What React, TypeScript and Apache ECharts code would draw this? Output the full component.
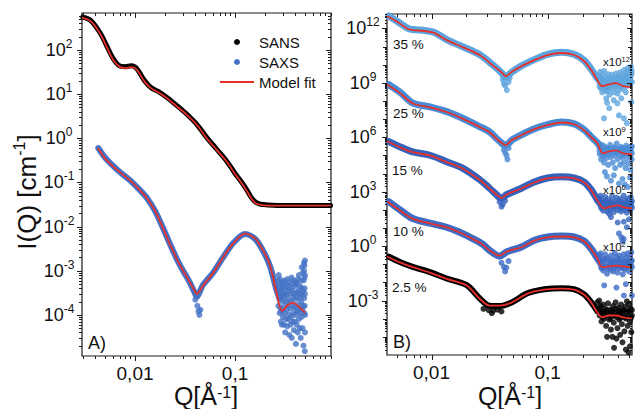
import React, { useEffect, useRef } from 'react';
import * as echarts from 'echarts';

const FONT = "'Liberation Sans', Arial, Helvetica, sans-serif";
const AXIS_COLOR = '#1a1a1a';
const TEXT_COLOR = '#111';
const RED = '#e8302a';
const C_SANS = '#000000';
const C_SAXS = '#4472c4';
const C_35 = '#5ca5de';
const C_25 = '#4a8bd5';
const C_15 = '#3363bd';
const C_10 = '#3d6cc5';
const C_2_5 = '#000000';

// axis ranges
const A_X = [0.00295, 0.91];
const A_Y = [1.17e-5, 690];
const B_X = [0.00414, 0.531];
const B_Y = [1e-6, 6.2e12];

// tick labels on Q axis
const Q_TICK_VALUES = [0.01, 0.1];
const Q_TICK_TEXTS = ['0,01', '0,1'];

// axis titles
const X_TITLE = '{m|Q[Å}{s|-1}{m|]}';
const Y_TITLE = '{m|I(Q) [cm}{s|-1}{m|]}';

// ---------- Panel A ----------
const A_SANS_DATA = [
  [0.003, 560], [0.0036, 470], [0.0045, 240], [0.0052, 125], [0.0061, 62], [0.0071, 43], [0.008, 42],
  [0.0092, 44], [0.0104, 38], [0.0125, 20], [0.0145, 14], [0.017, 11.5], [0.021, 8.3], [0.027, 5.2],
  [0.033, 3.5], [0.042, 2.0], [0.052, 1.05], [0.065, 0.58], [0.083, 0.3], [0.1, 0.16], [0.115, 0.105],
  [0.13, 0.07], [0.145, 0.046], [0.16, 0.036], [0.18, 0.032], [0.21, 0.031], [0.3, 0.03], [0.5, 0.03], [0.9, 0.03],
];
const A_SANS_FIT = [
  [0.00295, 545], [0.0036, 450], [0.0045, 230], [0.0052, 118], [0.0061, 58], [0.0071, 41], [0.008, 39],
  [0.0092, 41], [0.0104, 36], [0.0125, 19], [0.0145, 13.5], [0.017, 11], [0.021, 8.0], [0.027, 5.0],
  [0.033, 3.4], [0.042, 1.95], [0.052, 1.0], [0.065, 0.56], [0.083, 0.29], [0.1, 0.155], [0.115, 0.1],
  [0.13, 0.066], [0.145, 0.044], [0.16, 0.034], [0.18, 0.031], [0.21, 0.03], [0.3, 0.03], [0.5, 0.03], [0.91, 0.03],
];
const A_SAXS_DATA = [
  [0.0043, 0.6], [0.005, 0.37], [0.0059, 0.25], [0.0071, 0.17], [0.0089, 0.112], [0.0112, 0.067],
  [0.0132, 0.044], [0.0158, 0.023], [0.0191, 0.0092], [0.0224, 0.004], [0.0263, 0.0018], [0.0302, 0.001],
  [0.0347, 0.00058], [0.0389, 0.00034], [0.0417, 0.00026], [0.045, 0.00036], [0.0479, 0.00048], [0.0603, 0.0009],
  [0.0759, 0.002], [0.0955, 0.0042], [0.126, 0.0068], [0.158, 0.0053], [0.191, 0.0028], [0.224, 0.00125],
  [0.257, 0.0004], [0.275, 0.00025],
];
const A_SAXS_DIP = [[0.04, 2.2e-4], [0.041, 2.6e-4], [0.042, 1.6e-4], [0.043, 1.2e-4], [0.044, 1.0e-4], [0.045, 1.3e-4]];
const A_SAXS_NOISE = [
  [0.268, 6e-4], [0.27, 3.2e-4], [0.271, 1.6e-4], [0.273, 8e-4], [0.276, 4.5e-4], [0.278, 2.2e-4], [0.279, 1.1e-4],
  [0.281, 6.5e-4], [0.284, 3.5e-4], [0.285, 1.4e-4], [0.287, 7e-5], [0.288, 5e-4], [0.291, 2.6e-4], [0.292, 1.2e-4],
  [0.294, 6e-5], [0.295, 4e-4], [0.298, 5.5e-4], [0.299, 2e-4], [0.301, 9e-5], [0.302, 3e-4], [0.305, 4.5e-4],
  [0.306, 1.5e-4], [0.308, 6e-5], [0.309, 2.5e-4], [0.312, 6e-4], [0.314, 3e-4], [0.315, 1.1e-4], [0.317, 4e-5],
  [0.32, 4e-4], [0.322, 2e-4], [0.323, 8e-5], [0.325, 5e-4], [0.328, 2.8e-4], [0.33, 1.3e-4], [0.332, 5.5e-5],
  [0.334, 6.5e-4], [0.337, 3.5e-4], [0.338, 1.7e-4], [0.34, 8e-5], [0.342, 4.5e-4], [0.345, 2.2e-4], [0.347, 1e-4],
  [0.349, 3.5e-5], [0.35, 5.5e-4], [0.354, 3e-4], [0.356, 1.4e-4], [0.358, 6e-5], [0.36, 4e-4], [0.363, 2e-4],
  [0.365, 9e-5], [0.367, 7e-4], [0.369, 3e-5], [0.372, 3.5e-4], [0.374, 1.6e-4], [0.376, 7e-5], [0.378, 5e-4],
  [0.381, 2.5e-4], [0.383, 1.1e-4], [0.385, 6e-4], [0.387, 4.5e-5], [0.39, 3e-4], [0.392, 1.5e-4], [0.394, 7e-5],
  [0.396, 4.5e-4], [0.4, 2.2e-4], [0.402, 1e-4], [0.404, 5.5e-4], [0.406, 2.2e-5], [0.409, 3.2e-4], [0.411, 1.4e-4],
  [0.413, 6e-5], [0.415, 5e-4], [0.419, 2.6e-4], [0.421, 1.2e-4], [0.423, 4e-5], [0.425, 6.5e-4], [0.429, 3.5e-4],
  [0.431, 1.7e-4], [0.433, 8e-5], [0.435, 8e-4], [0.439, 2.4e-4], [0.441, 1.1e-4], [0.443, 5e-5], [0.445, 4.5e-4],
  [0.449, 3e-4], [0.451, 1.4e-4], [0.453, 3e-5], [0.455, 6e-4], [0.459, 2e-4], [0.461, 9e-5], [0.463, 1.2e-3],
  [0.465, 4e-4], [0.469, 2.8e-4], [0.471, 1.3e-4], [0.473, 5e-5], [0.475, 9e-4], [0.479, 3.5e-4], [0.481, 1.6e-4],
  [0.483, 2e-5], [0.485, 6e-4], [0.489, 1.5e-3], [0.49, 1e-3], [0.491, 2.4e-4], [0.492, 1.1e-4], [0.494, 1.3e-3],
  [0.495, 7e-4], [0.496, 4e-4], [0.497, 1.6e-4], [0.499, 1.7e-3], [0.5, 8e-4], [0.5, 3e-4], [0.501, 1e-4],
  [0.498, 1.5e-5], [0.5, 4e-5],
];
const A_SAXS_FIT = [
  [0.00427, 0.593], [0.00501, 0.351], [0.00589, 0.243], [0.00708, 0.169], [0.00891, 0.111], [0.0112, 0.066],
  [0.0132, 0.0433], [0.0158, 0.0231], [0.0191, 0.009], [0.0224, 0.0039], [0.0263, 0.00178], [0.0302, 0.001],
  [0.0347, 0.00059], [0.0389, 0.00037], [0.0417, 0.0003], [0.0479, 0.00046], [0.0603, 0.00089], [0.0759, 0.002],
  [0.0955, 0.0041], [0.126, 0.0069], [0.158, 0.0054], [0.191, 0.00285], [0.224, 0.0013], [0.257, 0.00035],
  [0.295, 0.000123], [0.339, 0.00017], [0.38, 0.000187], [0.437, 0.000152], [0.501, 0.000112],
];

// ---------- Panel B ----------
const B35_FIT = [
  [0.00414, 4.8e12], [0.00514, 2.2e12], [0.00627, 9.2e11], [0.00692, 8.1e11], [0.00877, 7.1e11], [0.01067, 5.5e11],
  [0.0135, 2.25e11], [0.0185, 9.3e10], [0.0259, 3.4e10], [0.0335, 9.4e9], [0.0408, 3.4e9], [0.0433, 2.3e9],
  [0.0488, 3.9e9], [0.0594, 8.3e9], [0.0768, 1.78e10], [0.0993, 3.4e10], [0.131, 4.4e10], [0.169, 3.4e10],
  [0.206, 1.55e10], [0.237, 5e9], [0.267, 1.4e9], [0.294, 6.5e8], [0.338, 8.3e8], [0.388, 9.5e8], [0.446, 6.5e8], [0.531, 5.7e8],
];
const B25_FIT = [
  [0.00414, 8.0e8], [0.00535, 2.7e8], [0.00692, 7.2e7], [0.00968, 4.5e7], [0.0135, 2.46e7], [0.0185, 1.07e7],
  [0.0259, 3.7e6], [0.0316, 1.9e6], [0.0361, 8.5e5], [0.0408, 4.5e5], [0.0433, 3.6e5], [0.0488, 6.8e5],
  [0.0594, 1.29e6], [0.0768, 2.8e6], [0.0993, 4.6e6], [0.131, 6.5e6], [0.169, 5.2e6], [0.206, 2.4e6],
  [0.237, 1.0e6], [0.267, 4.7e5], [0.298, 1.3e5], [0.338, 1.66e5], [0.388, 1.9e5], [0.446, 1.3e5], [0.531, 1.15e5],
];
const B15_FIT = [
  [0.00414, 6.0e5], [0.00535, 2.8e5], [0.00692, 1.5e5], [0.00968, 9.9e4], [0.0135, 4.3e4], [0.0185, 1.9e4],
  [0.0259, 4.5e3], [0.0316, 1.5e3], [0.0361, 700], [0.04, 450], [0.0442, 700], [0.0594, 1.5e3], [0.0768, 3.2e3],
  [0.0993, 5.4e3], [0.131, 6.2e3], [0.169, 5.4e3], [0.206, 3.2e3], [0.237, 1.18e3], [0.267, 330], [0.306, 120],
  [0.352, 155], [0.404, 175], [0.454, 135], [0.531, 120],
];
const B10_FIT = [
  [0.00414, 300], [0.00535, 93], [0.00692, 32], [0.00967, 17.8], [0.01352, 10.7], [0.0175, 5.6], [0.0226, 2.5],
  [0.0275, 1.23], [0.0316, 0.57], [0.0385, 0.3], [0.0442, 0.5], [0.0594, 0.87], [0.0768, 2.0], [0.0993, 3.0],
  [0.131, 3.4], [0.169, 3.0], [0.206, 1.8], [0.237, 0.65], [0.267, 0.21], [0.294, 0.069], [0.338, 0.076],
  [0.388, 0.085], [0.446, 0.076], [0.531, 0.066],
];
const B2_5_FIT = [
  [0.00414, 0.27], [0.00535, 0.126], [0.00692, 0.069], [0.00967, 0.035], [0.01352, 0.0158], [0.0201, 0.0068],
  [0.0259, 0.0013], [0.0316, 5.3e-4], [0.0385, 5.3e-4], [0.0488, 7.7e-4], [0.0668, 0.0024], [0.0935, 0.004],
  [0.131, 0.0046], [0.169, 0.004], [0.206, 0.0021], [0.237, 7.7e-4], [0.267, 2.2e-4], [0.294, 1.2e-4],
  [0.338, 1.5e-4], [0.388, 1.5e-4], [0.446, 1.17e-4], [0.531, 1.0e-4],
];

const B35_DATA = [
  [0.0043, 4.8e12], [0.0051, 2.4e12], [0.0063, 1.0e12], [0.0069, 8.6e11], [0.0088, 7.5e11], [0.0107, 5.8e11],
  [0.0135, 2.4e11], [0.0185, 9.8e10], [0.0259, 3.6e10], [0.0335, 1.0e10], [0.0408, 3.2e9], [0.0433, 2.0e9],
  [0.0488, 3.8e9], [0.0594, 8.6e9], [0.0768, 1.9e10], [0.0993, 3.7e10], [0.131, 4.8e10], [0.169, 3.7e10],
  [0.206, 1.7e10], [0.237, 5.6e9], [0.267, 1.8e9], [0.28, 1.3e9],
];
const B25_DATA = [
  [0.0043, 7.8e8], [0.0054, 2.9e8], [0.0069, 7.6e7], [0.0097, 4.7e7], [0.0135, 2.6e7], [0.0185, 1.12e7],
  [0.0259, 3.9e6], [0.0316, 2.0e6], [0.0361, 8.8e5], [0.0408, 4.4e5], [0.0433, 3.3e5], [0.0488, 6.8e5],
  [0.0594, 1.35e6], [0.0768, 2.9e6], [0.0993, 4.9e6], [0.131, 6.9e6], [0.169, 5.5e6], [0.206, 2.6e6],
  [0.237, 1.05e6], [0.267, 5e5], [0.28, 3.5e5],
];
const B15_DATA = [
  [0.0043, 5.8e5], [0.0054, 2.9e5], [0.0069, 1.55e5], [0.0097, 1.02e5], [0.0135, 4.5e4], [0.0185, 2e4],
  [0.0259, 4.7e3], [0.0316, 1.55e3], [0.0361, 700], [0.04, 420], [0.0442, 680], [0.0594, 1.55e3], [0.0768, 3.4e3],
  [0.0993, 5.7e3], [0.131, 6.6e3], [0.169, 5.7e3], [0.206, 3.4e3], [0.237, 1.25e3], [0.267, 360], [0.28, 250],
];
const B10_DATA = [
  [0.0043, 280], [0.0054, 96], [0.0069, 33], [0.0097, 18.5], [0.0135, 11], [0.0175, 5.8], [0.0226, 2.6],
  [0.0275, 1.28], [0.0316, 0.58], [0.0385, 0.28], [0.0442, 0.48], [0.0594, 0.9], [0.0768, 2.1], [0.0993, 3.2],
  [0.131, 3.6], [0.169, 3.2], [0.206, 1.9], [0.237, 0.7], [0.267, 0.22], [0.28, 0.14],
];
const B2_5_DATA = [
  [0.0043, 0.26], [0.0054, 0.13], [0.0069, 0.072], [0.0097, 0.037], [0.0135, 0.0165], [0.0201, 0.0071],
  [0.0259, 0.00135], [0.0316, 5.2e-4], [0.0385, 5.0e-4], [0.0488, 7.8e-4], [0.0668, 0.0025], [0.0935, 0.0042],
  [0.131, 0.0048], [0.169, 0.0042], [0.206, 0.0022], [0.237, 8e-4], [0.267, 2.6e-4],
];

const B35_DIP = [[0.041, 1.5e9], [0.042, 9e8], [0.043, 7e8], [0.0445, 4e8], [0.046, 1.1e9], [0.047, 1.8e9]];
const B25_DIP = [[0.042, 2e5], [0.043, 1.4e5], [0.0442, 1e5], [0.045, 6e4], [0.046, 2.5e5]];
const B15_DIP = [[0.0385, 270], [0.04, 150], [0.041, 200], [0.043, 320]];
const B10_DIP = [[0.04, 0.12], [0.042, 0.07], [0.043, 0.04], [0.044, 0.065], [0.046, 0.15]];
const B2_5_DIP = [[0.028, 3.5e-4], [0.031, 3e-4], [0.033, 2e-4], [0.034, 2.8e-4], [0.037, 3.2e-4], [0.04, 2.5e-4]];

const B35_NOISE = [
  [0.277, 2.5e9], [0.28, 9e8], [0.283, 4e9], [0.287, 5e8], [0.29, 1.6e9], [0.294, 3e8], [0.298, 2.6e9], [0.302, 7e8],
  [0.306, 4.5e9], [0.31, 1.2e9], [0.315, 3.5e8], [0.32, 2e9], [0.325, 6e8], [0.33, 3e9], [0.335, 1.1e9], [0.34, 2.2e8],
  [0.346, 1.7e9], [0.352, 5e8], [0.358, 2.8e9], [0.364, 9e8], [0.37, 3e8], [0.376, 1.9e9], [0.382, 6e8], [0.388, 3.3e9],
  [0.394, 1.2e9], [0.4, 4e8], [0.407, 2.3e9], [0.414, 7e8], [0.42, 3.8e9], [0.427, 1.4e9], [0.434, 4.5e8], [0.44, 2.6e9],
  [0.447, 9e8], [0.454, 5e9], [0.46, 1.8e9], [0.467, 6e8], [0.474, 3.5e9], [0.48, 1.3e9], [0.487, 6.5e9], [0.494, 2.4e9],
  [0.5, 8e8], [0.507, 5e9], [0.514, 1.7e9], [0.52, 7.5e9], [0.527, 3e9], [0.53, 1.1e9],
  [0.279, 6e8], [0.285, 1.8e9], [0.292, 8e8], [0.3, 1.2e9], [0.308, 5e8], [0.317, 9e8], [0.327, 1.4e9], [0.338, 6e8],
  [0.349, 9e8], [0.36, 1.5e9], [0.372, 7e8], [0.385, 1e9], [0.397, 1.8e9], [0.41, 1e9], [0.424, 6e8], [0.437, 1.6e9],
  [0.45, 1.1e9], [0.465, 2.5e9], [0.478, 8e8], [0.49, 1.5e9], [0.503, 3e9], [0.517, 1e9], [0.528, 4.5e9],
  [0.33, 3.5e8], [0.4, 2.5e8], [0.47, 3e8],
  [0.305, 1.1e7], [0.318, 1.4e8], [0.324, 8e7], [0.338, 4e7], [0.37, 1.1e8], [0.397, 7.4e7], [0.41, 1.6e7],
  [0.43, 1.4e8], [0.452, 1.1e7], [0.48, 6e6], [0.525, 8.5e7],
];
const B25_NOISE = [
  [0.277, 3e5], [0.28, 1.2e5], [0.284, 4e5], [0.288, 6e4], [0.292, 2e5], [0.296, 9e4], [0.3, 3.5e5], [0.305, 4e4],
  [0.31, 1.5e5], [0.315, 2.8e5], [0.32, 7e4], [0.326, 2.2e5], [0.332, 3e4], [0.338, 1.2e5], [0.344, 3.8e5], [0.35, 8e4],
  [0.356, 1.8e5], [0.362, 4e4], [0.368, 2.6e5], [0.374, 1e5], [0.38, 2e4], [0.386, 1.6e5], [0.392, 4.5e5], [0.398, 6e4],
  [0.405, 2.2e5], [0.412, 1.1e5], [0.42, 3e4], [0.427, 3e5], [0.434, 8e4], [0.44, 1.7e5], [0.447, 4e4], [0.454, 2.5e5],
  [0.46, 1.2e5], [0.467, 2e4], [0.474, 3.5e5], [0.48, 7e4], [0.487, 1.9e5], [0.494, 3.5e4], [0.5, 2.8e5], [0.507, 1e5],
  [0.514, 1.6e4], [0.52, 2e5], [0.527, 6e4], [0.53, 3.2e5],
  [0.279, 1.8e5], [0.286, 2.5e5], [0.293, 1.3e5], [0.302, 2e5], [0.311, 1e5], [0.321, 1.6e5], [0.331, 2.5e5],
  [0.342, 1.3e5], [0.353, 2.2e5], [0.365, 1.5e5], [0.377, 2.8e5], [0.389, 1.3e5], [0.401, 2e5], [0.414, 1.6e5],
  [0.427, 2.4e5], [0.44, 1e5], [0.453, 1.6e5], [0.466, 2.4e5], [0.48, 1.4e5], [0.494, 2e5], [0.508, 1.6e5],
  [0.522, 2.8e5], [0.53, 1.3e5],
  [0.31, 1.2e4], [0.323, 7e3], [0.35, 4e3], [0.37, 8e3], [0.41, 2.8e3], [0.44, 5e3], [0.46, 2.5e3], [0.49, 1.8e3], [0.51, 6e3],
];
const B15_NOISE = [
  [0.277, 450], [0.28, 200], [0.285, 600], [0.29, 120], [0.295, 330], [0.3, 90], [0.306, 250], [0.312, 520],
  [0.318, 150], [0.324, 80], [0.33, 380], [0.337, 180], [0.344, 100], [0.35, 280], [0.357, 550], [0.364, 130],
  [0.37, 75], [0.377, 300], [0.384, 160], [0.39, 480], [0.398, 95], [0.405, 220], [0.412, 130], [0.42, 400],
  [0.428, 80], [0.435, 260], [0.442, 150], [0.45, 600], [0.457, 100], [0.465, 320], [0.472, 180], [0.48, 70],
  [0.487, 420], [0.495, 140], [0.502, 250], [0.51, 90], [0.517, 500], [0.524, 170], [0.53, 300],
  [0.279, 320], [0.287, 150], [0.296, 220], [0.305, 160], [0.315, 300], [0.326, 130], [0.337, 260], [0.348, 160],
  [0.36, 220], [0.372, 140], [0.385, 230], [0.397, 150], [0.41, 300], [0.423, 120], [0.437, 200], [0.45, 140],
  [0.464, 230], [0.478, 130], [0.492, 200], [0.506, 150], [0.52, 240], [0.53, 130],
  [0.338, 60], [0.35, 40], [0.4, 20], [0.452, 22], [0.48, 11], [0.5, 30],
];
const B10_NOISE = [
  [0.277, 0.3], [0.28, 0.12], [0.285, 0.4], [0.29, 0.06], [0.295, 0.2], [0.3, 0.045], [0.306, 0.15], [0.312, 0.35],
  [0.318, 0.08], [0.324, 0.03], [0.33, 0.22], [0.337, 0.1], [0.344, 0.05], [0.35, 0.3], [0.357, 0.14], [0.364, 0.04],
  [0.37, 0.18], [0.377, 0.42], [0.384, 0.07], [0.39, 0.25], [0.398, 0.035], [0.405, 0.12], [0.412, 0.3], [0.42, 0.06],
  [0.428, 0.2], [0.435, 0.09], [0.442, 0.028], [0.45, 0.35], [0.457, 0.11], [0.465, 0.05], [0.472, 0.22], [0.48, 0.08],
  [0.487, 0.4], [0.495, 0.14], [0.502, 0.04], [0.51, 0.25], [0.517, 0.1], [0.524, 0.45], [0.53, 0.16],
  [0.279, 0.18], [0.287, 0.08], [0.296, 0.12], [0.305, 0.07], [0.315, 0.2], [0.326, 0.06], [0.337, 0.15],
  [0.348, 0.08], [0.36, 0.12], [0.372, 0.06], [0.385, 0.13], [0.397, 0.08], [0.41, 0.17], [0.423, 0.07],
  [0.437, 0.13], [0.45, 0.06], [0.464, 0.15], [0.478, 0.07], [0.492, 0.12], [0.506, 0.08], [0.52, 0.15], [0.53, 0.07],
  [0.306, 0.0068], [0.39, 0.0052], [0.452, 0.0019], [0.53, 0.0019], [0.47, 0.008],
  [0.41, 5], [0.43, 3], [0.44, 1.8], [0.45, 2.5],
];
const B2_5_NOISE = [
  [0.267, 8e-4], [0.272, 3e-4], [0.277, 1e-3], [0.28, 1.5e-4], [0.285, 5e-4], [0.29, 7e-5], [0.295, 2.5e-4], [0.3, 6e-4],
  [0.306, 1e-4], [0.312, 3.5e-4], [0.318, 4e-5], [0.324, 2e-4], [0.33, 7e-4], [0.337, 9e-5], [0.344, 3e-4], [0.35, 2.5e-5],
  [0.357, 1.5e-4], [0.364, 5e-4], [0.37, 6e-5], [0.377, 2.2e-4], [0.384, 8e-4], [0.39, 1.2e-4], [0.398, 3e-5], [0.405, 4e-4],
  [0.412, 9e-5], [0.42, 2e-4], [0.428, 6e-4], [0.435, 5e-5], [0.442, 3e-4], [0.45, 1.3e-4], [0.457, 2e-5], [0.465, 4.5e-4],
  [0.472, 1e-4], [0.48, 9e-4], [0.487, 4e-5], [0.495, 2.5e-4], [0.502, 6e-4], [0.51, 7e-5], [0.517, 3.5e-4], [0.524, 1.8e-5],
  [0.53, 1.5e-4],
  [0.279, 4e-4], [0.287, 1.8e-4], [0.296, 1.2e-4], [0.305, 2.5e-4], [0.315, 1.5e-4], [0.326, 3e-4], [0.337, 1.8e-4],
  [0.348, 1e-4], [0.36, 2.8e-4], [0.372, 1.5e-4], [0.385, 3.5e-4], [0.397, 1.6e-4], [0.41, 2.5e-4], [0.423, 1.1e-4],
  [0.437, 2e-4], [0.45, 3e-4], [0.464, 1.2e-4], [0.478, 2.2e-4], [0.492, 1.3e-4], [0.506, 2.6e-4], [0.52, 1.1e-4],
  [0.53, 3e-4], [0.36, 1e-5], [0.42, 1.3e-5], [0.39, 8e-6],
  [0.324, 1e-5], [0.372, 2.5e-6], [0.44, 5e-6], [0.495, 1.4e-6], [0.47, 2e-6], [0.51, 3e-6],
];

// annotation texts
const CONC_LABELS = ['35 %', '25 %', '15 %', '10 %', '2.5 %'];
const SCALE_EXPONENTS = ['12', '9', '6', '2'];

// ---------- helpers ----------
function makeLogTicks(min: number, max: number, labelEvery: number) {
  const out: number[][] = [];
  const e0 = Math.floor(Math.log10(min));
  const e1 = Math.ceil(Math.log10(max));
  for (let e = e0; e <= e1; e++) {
    for (let m = 1; m <= 9; m++) {
      const v = m * Math.pow(10, e);
      if (v < min * 1.0001 || v > max * 0.9999) continue;
      const kind = m === 1 ? (e % labelEvery === 0 ? 2 : 1) : 0;
      out.push([v, kind]);
    }
  }
  return out;
}

function xTickSeries(gi: number, xr: number[], yr: number[], lens: number[]) {
  const yRef = Math.sqrt(yr[0] * yr[1]);
  const data = makeLogTicks(xr[0], xr[1], 1).map(([v, k]) => [v, yRef, k]);
  return {
    type: 'custom', xAxisIndex: gi, yAxisIndex: gi, data, clip: false, silent: true, z: 10,
    encode: { x: 0, y: 1 },
    renderItem: (params: any, api: any) => {
      const cs = params.coordSys;
      const x = Math.round(api.coord([api.value(0), api.value(1)])[0]) + 0.5;
      const L = lens[api.value(2)];
      const b = cs.y + cs.height;
      const style = { stroke: AXIS_COLOR, lineWidth: 1 };
      return {
        type: 'group', children: [
          { type: 'line', shape: { x1: x, y1: b, x2: x, y2: b + L }, style },
          { type: 'line', shape: { x1: x, y1: cs.y, x2: x, y2: cs.y + L }, style },
        ],
      };
    },
  };
}

function yTickSeries(gi: number, xr: number[], yr: number[], lens: number[], every: number) {
  const xRef = Math.sqrt(xr[0] * xr[1]);
  const data = makeLogTicks(yr[0], yr[1], every).map(([v, k]) => [xRef, v, k]);
  return {
    type: 'custom', xAxisIndex: gi, yAxisIndex: gi, data, clip: false, silent: true, z: 10,
    encode: { x: 0, y: 1 },
    renderItem: (params: any, api: any) => {
      const cs = params.coordSys;
      const y = Math.round(api.coord([api.value(0), api.value(1)])[1]) + 0.5;
      const L = lens[api.value(2)];
      const r = cs.x + cs.width;
      const style = { stroke: AXIS_COLOR, lineWidth: 1 };
      return {
        type: 'group', children: [
          { type: 'line', shape: { x1: cs.x - L, y1: y, x2: cs.x, y2: y }, style },
          { type: 'line', shape: { x1: r - L, y1: y, x2: r, y2: y }, style },
        ],
      };
    },
  };
}

function band(name: string, data: number[][], color: string, gi: number, width: number) {
  return {
    type: 'line', name, data, xAxisIndex: gi, yAxisIndex: gi, symbol: 'none', showSymbol: false, smooth: 0.3,
    lineStyle: { color, width, cap: 'round', join: 'round' }, itemStyle: { color }, z: 2, silent: true,
  };
}
function dots(name: string, data: number[][], color: string, gi: number) {
  return {
    type: 'scatter', name, data, xAxisIndex: gi, yAxisIndex: gi, symbolSize: 6,
    itemStyle: { color }, z: 3, silent: true,
  };
}
function fit(data: number[][], gi: number) {
  return {
    type: 'line', name: 'Model fit', data, xAxisIndex: gi, yAxisIndex: gi, symbol: 'none', showSymbol: false,
    smooth: 0.3, lineStyle: { color: RED, width: 1.8 }, itemStyle: { color: RED }, z: 4, silent: true,
  };
}

const isPow10 = (v: number) => {
  const e = Math.log10(v);
  return Math.abs(e - Math.round(e)) < 1e-4;
};

const xFmt = (v: number) => {
  for (let i = 0; i < Q_TICK_VALUES.length; i++) {
    if (Math.abs(Math.log10(v) - Math.log10(Q_TICK_VALUES[i])) < 1e-4) return Q_TICK_TEXTS[i];
  }
  return '';
};
const yFmtA = (v: number) => (isPow10(v) ? `{b|10}{s|${Math.round(Math.log10(v))}}` : '');
const yFmtB = (v: number) => {
  if (!isPow10(v)) return '';
  const e = Math.round(Math.log10(v));
  if (e % 3 !== 0 || e <= -6) return '';
  return `{b|10}{s|${e}}`;
};

const yLabelRich = {
  b: { fontSize: 18, lineHeight: 24, fontFamily: FONT, color: TEXT_COLOR },
  s: { fontSize: 12, lineHeight: 12, verticalAlign: 'top', fontFamily: FONT, color: TEXT_COLOR },
};

function xAxis(gi: number, r: number[]) {
  return {
    type: 'log', logBase: 10, gridIndex: gi, min: r[0], max: r[1],
    axisLine: { show: false }, axisTick: { show: false }, splitLine: { show: false },
    axisLabel: { formatter: xFmt, margin: 8, fontSize: 19, lineHeight: 19, fontFamily: FONT, color: TEXT_COLOR },
  };
}

function titleText(text: string, x: number, y: number, size: number, rotation: number, lh: number) {
  return {
    type: 'text', x, y, rotation, z: 100,
    style: {
      text, align: 'center', verticalAlign: 'middle',
      rich: {
        m: { fontSize: size, lineHeight: lh, fontFamily: FONT, fill: TEXT_COLOR },
        s: { fontSize: Math.round(size * 0.62), lineHeight: Math.round(size * 0.62), verticalAlign: 'top', fontFamily: FONT, fill: TEXT_COLOR },
      },
    },
  };
}

function buildOption() {
  const labelPos = [
    [393, 44], [393, 113], [392, 170], [393, 231], [392, 287],
  ];
  const scalePos = [[603, 62], [603, 132], [603, 190], [603, 247]];
  const graphic: any[] = [
    { type: 'text', x: 88, y: 343, z: 100, style: { text: 'A)', fontSize: 18, fontFamily: FONT, fill: TEXT_COLOR, verticalAlign: 'middle' } },
    { type: 'text', x: 393, y: 342, z: 100, style: { text: 'B)', fontSize: 18, fontFamily: FONT, fill: TEXT_COLOR, verticalAlign: 'middle' } },
    titleText(X_TITLE, 206, 396, 25, 0, 24),
    titleText(X_TITLE, 510, 396, 25, 0, 24),
    titleText(Y_TITLE, 27, 192, 26, Math.PI / 2, 32),
  ];
  CONC_LABELS.forEach((t, i) => {
    graphic.push({
      type: 'text', x: labelPos[i][0], y: labelPos[i][1], z: 100,
      style: { text: t, fontSize: 13.5, fontFamily: FONT, fill: TEXT_COLOR, verticalAlign: 'middle' },
    });
  });
  SCALE_EXPONENTS.forEach((e, i) => {
    graphic.push({
      type: 'text', x: scalePos[i][0], y: scalePos[i][1], z: 100,
      style: {
        text: `{a|x10}{b|${e}}`, verticalAlign: 'middle',
        rich: {
          a: { fontSize: 11.5, lineHeight: 14, fontFamily: FONT, fill: TEXT_COLOR },
          b: { fontSize: 7.5, lineHeight: 8, verticalAlign: 'top', fontFamily: FONT, fill: TEXT_COLOR },
        },
      },
    });
  });

  return {
    animation: false,
    backgroundColor: '#fff',
    textStyle: { fontFamily: FONT },
    grid: [
      { left: 82, top: 13, width: 249, height: 343, show: true, borderColor: AXIS_COLOR, borderWidth: 1.2, backgroundColor: 'transparent' },
      { left: 387, top: 14, width: 246, height: 341, show: true, borderColor: AXIS_COLOR, borderWidth: 1.2, backgroundColor: 'transparent' },
    ],
    legend: {
      data: [
        { name: 'SANS', icon: 'circle' },
        { name: 'SAXS', icon: 'circle' },
        { name: 'Model fit', icon: 'path://M0,0H20V1.2H0Z' },
      ],
      orient: 'vertical', left: 215, top: 28, itemWidth: 34, itemHeight: 6, itemGap: 2, selectedMode: false,
      textStyle: { fontSize: 15, fontFamily: FONT, color: TEXT_COLOR, lineHeight: 18 },
    },
    xAxis: [xAxis(0, A_X), xAxis(1, B_X)],
    yAxis: [
      {
        type: 'log', logBase: 10, gridIndex: 0, min: A_Y[0], max: A_Y[1],
        axisLine: { show: false }, axisTick: { show: false }, splitLine: { show: false },
        axisLabel: { formatter: yFmtA, margin: 23, align: 'center', rich: yLabelRich },
      },
      {
        type: 'log', logBase: 10, gridIndex: 1, min: B_Y[0], max: B_Y[1], interval: 3,
        axisLine: { show: false }, axisTick: { show: false }, splitLine: { show: false },
        axisLabel: { formatter: yFmtB, margin: 24, align: 'center', rich: yLabelRich },
      },
    ],
    graphic,
    series: [
      band('SANS', A_SANS_DATA, C_SANS, 0, 5),
      band('SAXS', A_SAXS_DATA, C_SAXS, 0, 6),
      dots('SAXS', A_SAXS_DIP, C_SAXS, 0),
      dots('SAXS', A_SAXS_NOISE, C_SAXS, 0),
      fit(A_SANS_FIT, 0),
      fit(A_SAXS_FIT, 0),

      band('35 %', B35_DATA, C_35, 1, 7),
      dots('35 %', B35_DIP, C_35, 1),
      dots('35 %', B35_NOISE, C_35, 1),
      band('25 %', B25_DATA, C_25, 1, 7),
      dots('25 %', B25_DIP, C_25, 1),
      dots('25 %', B25_NOISE, C_25, 1),
      band('15 %', B15_DATA, C_15, 1, 7),
      dots('15 %', B15_DIP, C_15, 1),
      dots('15 %', B15_NOISE, C_15, 1),
      band('10 %', B10_DATA, C_10, 1, 7),
      dots('10 %', B10_DIP, C_10, 1),
      dots('10 %', B10_NOISE, C_10, 1),
      band('2.5 %', B2_5_DATA, C_2_5, 1, 6),
      dots('2.5 %', B2_5_DIP, C_2_5, 1),
      dots('2.5 %', B2_5_NOISE, C_2_5, 1),
      fit(B35_FIT, 1),
      fit(B25_FIT, 1),
      fit(B15_FIT, 1),
      fit(B10_FIT, 1),
      fit(B2_5_FIT, 1),

      xTickSeries(0, A_X, A_Y, [3, 5, 5]),
      yTickSeries(0, A_X, A_Y, [3, 5, 5], 1),
      xTickSeries(1, B_X, B_Y, [3, 5, 5]),
      yTickSeries(1, B_X, B_Y, [2, 4, 5], 3),
    ],
  };
}

export default function App() {
  const ref = useRef<HTMLDivElement>(null);
  useEffect(() => {
    const chart = echarts.init(ref.current as HTMLDivElement, null, { renderer: 'svg' });
    chart.setOption(buildOption() as any);
    return () => chart.dispose();
  }, []);
  return (
    <div
      ref={ref}
      style={{ position: 'absolute', left: 0, top: 0, width: 635, height: 409, background: '#fff' }}
    />
  );
}
